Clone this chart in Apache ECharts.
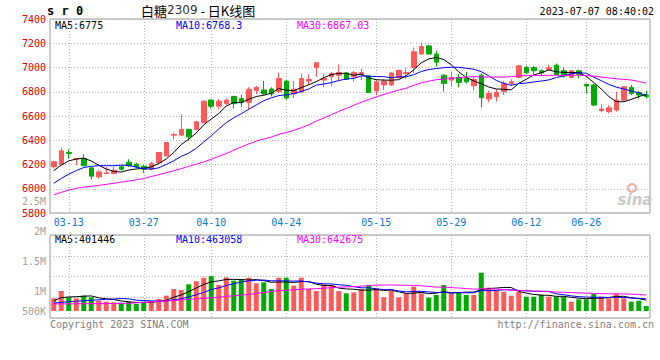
<!DOCTYPE html>
<html><head><meta charset="utf-8">
<script src="https://cdn.jsdelivr.net/npm/echarts@6.0.0/dist/echarts.min.js"></script>
<style>html,body{margin:0;padding:0;background:#fff}#c{width:660px;height:360px}</style>
</head><body><div id="c"></div>
<script>
const categories = ['03-09','03-10','03-13','03-14','03-15','03-16','03-17','03-20','03-21','03-22','03-23','03-24','03-27','03-28','03-29','03-30','03-31','04-03','04-04','04-06','04-07','04-10','04-11','04-12','04-13','04-14','04-17','04-18','04-19','04-20','04-21','04-24','04-25','04-26','04-27','04-28','05-04','05-05','05-08','05-09','05-10','05-11','05-12','05-15','05-16','05-17','05-18','05-19','05-22','05-23','05-24','05-25','05-26','05-29','05-30','05-31','06-01','06-02','06-05','06-06','06-07','06-08','06-09','06-12','06-13','06-14','06-15','06-16','06-19','06-20','06-21','06-26','06-27','06-28','06-29','06-30','07-03','07-04','07-05','07-06'];
const labelDates = ['03-13','03-27','04-10','04-24','05-15','05-29','06-12','06-26'];
const opens = [6181,6203,6299,6244,6249,6172,6098,6126,6126,6181,6219,6203,6186,6161,6214,6271,6442,6442,6489,6489,6544,6731,6681,6703,6762,6743,6713,6810,6815,6823,6802,6888,6783,6797,6888,6998,6896,6923,6936,6955,6923,6945,6931,6807,6856,6856,6915,6950,7000,7111,7178,7111,6936,6896,6918,6910,6849,6937,6740,6759,6800,6868,6918,7000,7000,6973,6984,7019,6973,6918,6973,6860,6855,6644,6636,6649,6731,6836,6792,6773];
const closes = [6222,6313,6290,6249,6189,6104,6139,6131,6153,6161,6189,6181,6161,6208,6299,6381,6447,6489,6428,6552,6722,6681,6722,6731,6702,6713,6821,6837,6783,6783,6909,6748,6821,6909,6901,7039,6909,6950,6958,6904,6958,6958,6794,6883,6888,6955,6977,6958,7130,7173,7111,7044,6869,6918,6877,6882,6901,6751,6786,6795,6868,6882,7014,6956,6973,6956,6997,6942,6929,6973,6945,6847,6690,6658,6668,6731,6841,6786,6773,6759];
const lows = [6167,6194,6249,6194,6186,6076,6084,6120,6120,6148,6181,6172,6131,6155,6208,6265,6409,6434,6395,6480,6540,6662,6654,6690,6662,6673,6654,6780,6775,6762,6788,6735,6748,6788,6856,6923,6837,6845,6896,6896,6883,6896,6788,6770,6815,6848,6909,6909,6955,7106,7106,7009,6802,6841,6836,6868,6814,6671,6712,6718,6773,6847,6910,6945,6945,6929,6978,6937,6915,6910,6910,6786,6682,6630,6622,6636,6718,6773,6745,6745];
const highs = [6230,6340,6324,6252,6285,6181,6153,6181,6181,6194,6244,6214,6194,6222,6304,6387,6464,6615,6497,6560,6731,6740,6740,6745,6765,6775,6837,6848,6888,6837,6958,6896,6888,6950,6944,7044,6950,6963,7025,6963,6971,6990,6936,6896,6904,6963,6982,6998,7165,7205,7187,7138,6944,6964,6945,6964,6923,6951,6808,6819,6888,6904,7019,7014,7011,6986,7025,7033,7005,6978,6978,6868,6868,6699,6690,6800,6847,6855,6808,6808];
const volumes = [532000,840000,574000,532000,644000,574000,434000,392000,364000,350000,392000,294000,392000,420000,504000,644000,924000,882000,1120000,1250000,1400000,1470000,1092000,1414000,1274000,1344000,1400000,1162000,1204000,924000,1400000,1400000,1064000,1400000,924000,840000,1120000,1092000,840000,742000,784000,924000,1092000,952000,574000,840000,574000,742000,1022000,742000,560000,672000,1092000,742000,784000,672000,672000,1610000,980000,882000,812000,644000,812000,602000,602000,672000,602000,602000,602000,392000,490000,490000,714000,602000,532000,714000,532000,392000,434000,210000];
const ma5Head = [6150,6195,6230,6245];
const ma10Head = [6045,6085,6120,6150,6175,6185,6190,6190,6190];
const ma30Head = [5950,5970,5989,6004,6012,6020,6028,6036,6045,6055,6064,6073,6085,6101,6116,6132,6148,6166,6185,6203,6222,6243,6268,6290,6318,6345,6370,6392,6410];
const volMa5Head = [430000,560000,590000,600000];
const volMa10Head = [330000,360000,390000,410000,430000,450000,470000,490000,505000];
const volMa30Head = [295000,298000,300000,303000,305000,308000,311000,313000,316000,319000,322000,340000,360000,380000,400000,420000,440000,465000,490000,515000,535000,550000,580000,610000,640000,670000,700000,735000,770000];
const priceTicks = [5800,6000,6200,6400,6600,6800,7000,7200,7400];
const volTickLabels = [500000,1000000,1500000,2000000,2500000];
const priceMaLegend = ['6775','6768.3','6867.03'];
const volMaLegend = ['401446','463058','642675'];
const symbolText = 's r 0';
const titleParts = ['白糖','2309',' - 日K线图'];
const stampText = '2023-07-07 08:40:02';
const copyLeft = 'Copyright 2023 SINA.COM';
const copyRight = 'http://finance.sina.com.cn';

function movingAvg(vals, n, head) {
  return vals.map((v, i) => {
    if (i < n - 1) return head[i];
    let s = 0; for (let k = i - n + 1; k <= i; k++) s += vals[k];
    return +(s / n).toFixed(2);
  });
}
const RED = '#ff5a5a', GREEN = '#00aa00';
const MONO = '"DejaVu Sans Mono", monospace';
const candleData = opens.map((o, i) => [o, closes[i], lows[i], highs[i]]);
const volData = volumes.map((v, i) => ({value: v, itemStyle: {color: closes[i] >= opens[i] ? RED : GREEN}}));
const ma5 = movingAvg(closes, 5, ma5Head), ma10 = movingAvg(closes, 10, ma10Head), ma30 = movingAvg(closes, 30, ma30Head);
const vma5 = movingAvg(volumes, 5, volMa5Head), vma10 = movingAvg(volumes, 10, volMa10Head), vma30 = movingAvg(volumes, 30, volMa30Head);
const dotted = {color: '#b4b4b4', type: [1, 2], width: 1};
const isLabelDay = (i, v) => labelDates.indexOf(v) >= 0;
const lineS = (name, data, color, xi, yi) => ({type: 'line', name, data, xAxisIndex: xi, yAxisIndex: yi, symbol: 'none', smooth: false, lineStyle: {color, width: 1}, silent: true});

const chart = echarts.init(document.getElementById('c'), null, {renderer: 'svg'});
chart.setOption({
  animation: false,
  backgroundColor: '#fff',
  grid: [
    {left: 50, top: 19, width: 600, height: 194, show: true, borderColor: '#999', borderWidth: 1},
    {left: 50, top: 235, width: 600, height: 83, show: true, borderColor: '#999', borderWidth: 1},
    {left: 50, top: 201, width: 600, height: 120, show: false}
  ],
  xAxis: [
    {type: 'category', gridIndex: 0, data: categories, boundaryGap: true,
     axisLine: {show: false}, axisTick: {show: false},
     axisLabel: {interval: isLabelDay, color: '#0a78d2', fontFamily: MONO, fontSize: 10, margin: 4},
     splitLine: {show: true, interval: isLabelDay, alignWithLabel: true, lineStyle: dotted}},
    {type: 'category', gridIndex: 1, data: categories, boundaryGap: true,
     axisLine: {show: false}, axisTick: {show: false}, axisLabel: {show: false},
     splitLine: {show: true, interval: isLabelDay, alignWithLabel: true, lineStyle: dotted}},
    {type: 'value', gridIndex: 2, show: false}
  ],
  yAxis: [
    {type: 'value', gridIndex: 0, min: priceTicks[0], max: priceTicks[priceTicks.length - 1], interval: priceTicks[1] - priceTicks[0],
     axisLine: {show: false}, axisTick: {show: false},
     axisLabel: {color: '#e00000', fontFamily: MONO, fontSize: 10, margin: 4, formatter: v => String(v)},
     splitLine: {show: true, lineStyle: dotted}},
    {type: 'value', gridIndex: 1, min: -294000, max: 3192000, show: false, splitLine: {show: false}},
    {type: 'value', gridIndex: 1, min: 0, max: 4, interval: 1, axisLine: {show: false}, axisTick: {show: false}, axisLabel: {show: false},
     splitLine: {show: true, lineStyle: dotted}},
    {type: 'value', gridIndex: 2, min: volTickLabels[0], max: volTickLabels[volTickLabels.length - 1], interval: volTickLabels[1] - volTickLabels[0],
     axisLine: {show: false}, axisTick: {show: false}, splitLine: {show: false},
     axisLabel: {color: '#a0a0a0', fontFamily: MONO, fontSize: 10, margin: 4,
       formatter: v => { const t = v >= 1e6 ? (v / 1e6) + 'M' : (v / 1e3) + 'K'; return v === volTickLabels[0] ? '{lo|' + t + '}' : t; },
       rich: {lo: {color: '#a0a0a0', fontFamily: MONO, fontSize: 10, padding: [0, 0, 20, 0]}}}}
  ],
  series: [
    {type: 'candlestick', xAxisIndex: 0, yAxisIndex: 0, data: candleData, barWidth: 5,
     itemStyle: {color: RED, color0: GREEN, borderColor: RED, borderColor0: GREEN, borderWidth: 1}},
    lineS('MA5', ma5, '#000000', 0, 0),
    lineS('MA10', ma10, '#0000ff', 0, 0),
    lineS('MA30', ma30, '#ff00ff', 0, 0),
    {type: 'bar', xAxisIndex: 1, yAxisIndex: 1, data: volData, barWidth: 5, silent: true},
    lineS('VMA5', vma5, '#000000', 1, 1),
    lineS('VMA10', vma10, '#0000ff', 1, 1),
    lineS('VMA30', vma30, '#ff00ff', 1, 1)
  ],
  graphic: [
    {type: 'text', x: 47, y: 11, style: {text: symbolText, font: 'bold 12px ' + MONO, fill: '#000', align: 'left', verticalAlign: 'middle'}},
    {type: 'text', x: 141, y: 10, style: {
      text: '{a|' + titleParts[0] + '}{b|' + titleParts[1] + '}{a|' + titleParts[2] + '}', align: 'left', verticalAlign: 'middle',
      rich: {a: {fontFamily: '"Noto Sans CJK SC"', fontSize: 13, lineHeight: 15, fill: '#000', color: '#000'}, b: {fontFamily: '"DejaVu Sans"', fontSize: 12, lineHeight: 15, fill: '#333', color: '#333'}}}},
    {type: 'text', x: 654, y: 11, style: {text: stampText, font: '10px ' + MONO, fill: '#000', align: 'right', verticalAlign: 'middle'}},
    {type: 'text', x: 55, y: 25, style: {text: 'MA5:' + priceMaLegend[0], font: '10px ' + MONO, fill: '#000', align: 'left', verticalAlign: 'middle'}},
    {type: 'text', x: 176, y: 25, style: {text: 'MA10:' + priceMaLegend[1], font: '10px ' + MONO, fill: '#0000ff', align: 'left', verticalAlign: 'middle'}},
    {type: 'text', x: 297, y: 25, style: {text: 'MA30:' + priceMaLegend[2], font: '10px ' + MONO, fill: '#ff00ff', align: 'left', verticalAlign: 'middle'}},
    {type: 'text', x: 55, y: 239, style: {text: 'MA5:' + volMaLegend[0], font: '10px ' + MONO, fill: '#000', align: 'left', verticalAlign: 'middle'}},
    {type: 'text', x: 176, y: 239, style: {text: 'MA10:' + volMaLegend[1], font: '10px ' + MONO, fill: '#0000ff', align: 'left', verticalAlign: 'middle'}},
    {type: 'text', x: 297, y: 239, style: {text: 'MA30:' + volMaLegend[2], font: '10px ' + MONO, fill: '#ff00ff', align: 'left', verticalAlign: 'middle'}},
    {type: 'text', x: 50, y: 324, style: {text: copyLeft, font: '10px ' + MONO, fill: '#808080', align: 'left', verticalAlign: 'middle'}},
    {type: 'text', x: 654, y: 324, style: {text: copyRight, font: '10px ' + MONO, fill: '#808080', align: 'right', verticalAlign: 'middle'}},
    {type: 'circle', shape: {cx: 632, cy: 188, r: 4}, style: {fill: 'none', stroke: '#f4a8a8', lineWidth: 2}},
    {type: 'text', x: 635, y: 200, style: {text: 'sina', font: 'italic bold 15px "DejaVu Sans"', fill: '#c8c8c8', align: 'center', verticalAlign: 'middle'}}
  ]
});
</script></body></html>
